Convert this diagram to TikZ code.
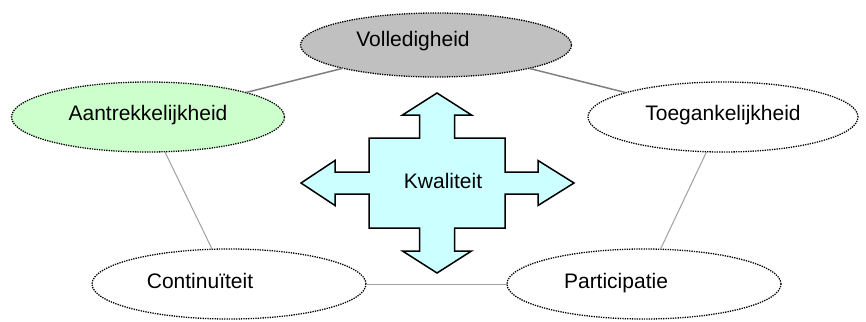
\documentclass[tikz,border=0pt]{standalone}
\usepackage{fontspec}
\setmainfont{Liberation Sans}
\usetikzlibrary{shapes.geometric}
\definecolor{volfill}{HTML}{C0C0C0}
\definecolor{aanfill}{HTML}{CCFFCC}
\definecolor{kwafill}{HTML}{CCFFFF}
\definecolor{linkdark}{HTML}{7F7F7F}
\definecolor{linklight}{HTML}{A0A0A0}
\tikzset{
  aspect/.style={ellipse, draw=black, line width=1.3pt, dash pattern=on 1.3pt off 1.1pt,
    minimum width=273pt, minimum height=70pt, inner sep=0pt, outer sep=0pt},
  lbl/.style={anchor=base, inner sep=0pt, font=\fontsize{21}{25}\selectfont},
  linkup/.style={draw=linkdark, line width=1.5pt},
  linklow/.style={draw=linklight, line width=1pt},
}
\begin{document}
\begin{tikzpicture}[x=1pt, y=-1pt]
\useasboundingbox (0,0) rectangle (866,321);

% the five aspects
\node[aspect, fill=volfill, minimum width=271pt, minimum height=64pt] (vol) at (436,45) {};
\node[aspect, fill=aanfill] (aan) at (148,117) {};
\node[aspect, fill=white, minimum width=270pt] (toe) at (723,117) {};
\node[aspect, fill=white, minimum width=274pt] (con) at (229,284) {};
\node[aspect, fill=white, minimum width=274pt] (par) at (644,284) {};

% links between the aspects
\draw[linkup] (vol) -- (aan);
\draw[linkup] (vol) -- (toe);
\draw[linklow] (aan) -- (con);
\draw[linklow] (toe) -- (par);
\draw[linklow] (con) -- (par);

% labels
\node[lbl] (tvol) at (413,47) {Volledigheid};
\node[lbl] (taan) at (148,120) {Aantrekkelijkheid};
\node[lbl] (ttoe) at (723,120) {Toegankelijkheid};
\node[lbl] (tcon) at (200,288) {Continuïteit};
\node[lbl] (tpar) at (616,288) {Participatie};

% central four-way arrow
\begin{scope}[shift={(437,183)}]
\draw[fill=kwafill, draw=black, line width=1.5pt, line join=miter]
  (0,-90) -- (34.5,-68) -- (17.5,-68) -- (17.5,-45) -- (68,-45) -- (68,-11)
  -- (101,-11) -- (101,-22.5) -- (137,0) -- (101,22.5) -- (101,11) -- (68,11)
  -- (68,45) -- (17.5,45) -- (17.5,68) -- (34.5,68) -- (0,90) -- (-34.5,68)
  -- (-17.5,68) -- (-17.5,45) -- (-68,45) -- (-68,11) -- (-102,11) -- (-102,22.5)
  -- (-136,0) -- (-102,-22.5) -- (-102,-11) -- (-68,-11) -- (-68,-45)
  -- (-17.5,-45) -- (-17.5,-68) -- (-34.5,-68) -- cycle;
\end{scope}
\node[lbl] (tkwa) at (443,188) {Kwaliteit};
\end{tikzpicture}
\end{document}
